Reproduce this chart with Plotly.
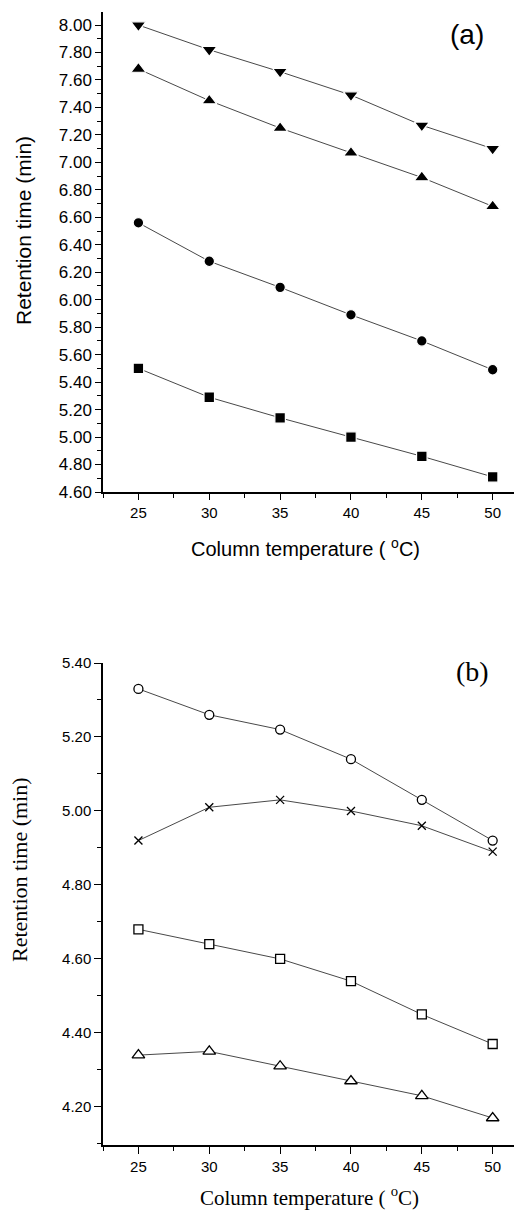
import plotly.graph_objects as go

# ---- data ----
temps = [25, 30, 35, 40, 45, 50]
a_down_tri = [8.00, 7.82, 7.66, 7.49, 7.27, 7.10]
a_up_tri = [7.68, 7.45, 7.25, 7.07, 6.89, 6.68]
a_circle = [6.56, 6.28, 6.09, 5.89, 5.70, 5.49]
a_square = [5.50, 5.29, 5.14, 5.00, 4.86, 4.71]

b_circle = [5.33, 5.26, 5.22, 5.14, 5.03, 4.92]
b_cross = [4.92, 5.01, 5.03, 5.00, 4.96, 4.89]
b_square = [4.68, 4.64, 4.60, 4.54, 4.45, 4.37]
b_triangle = [4.34, 4.35, 4.31, 4.27, 4.23, 4.17]

x_title = "Column temperature ( <sup>o</sup>C)"
y_title = "Retention time (min)"

# page has an 8px body margin; size the figure so it fits the window exactly
OFF = 8
W, H = 522 - OFF, 1210 - OFF
L, R, T, B = 103 - OFF, 0, 12 - OFF, 65
PW, PH = W - L - R, H - T - B


def px(x_page):
    return (x_page - OFF - L) / PW


def py(y_page):
    return (H - B - (y_page - OFF)) / PH


SANS = "Liberation Sans, Arial, sans-serif"
SERIF = "Liberation Serif, Times New Roman, serif"
LINE = dict(color="#333333", width=0.9)

fig = go.Figure()


def add_filled(y, symbol, size):
    fig.add_trace(go.Scatter(
        x=temps, y=y, mode="lines+markers", xaxis="x", yaxis="y",
        line=LINE,
        marker=dict(symbol=symbol, size=size, color="black",
                    line=dict(color="white", width=1.2)),
        showlegend=False))


def add_open(y, symbol, size, fill="white"):
    fig.add_trace(go.Scatter(
        x=temps, y=y, mode="lines+markers", xaxis="x2", yaxis="y2",
        line=LINE,
        marker=dict(symbol=symbol, size=size, color=fill,
                    line=dict(color="black", width=1.3)),
        showlegend=False))


add_filled(a_down_tri, "triangle-down", 13)
add_filled(a_up_tri, "triangle-up", 13)
add_filled(a_circle, "circle", 10.5)
add_filled(a_square, "square", 10.5)

add_open(b_circle, "circle", 9)
add_open(b_cross, "x-thin", 8, fill="black")
add_open(b_square, "square", 9)
add_open(b_triangle, "triangle-up", 11)

axis_common = dict(
    showgrid=False, zeroline=False, showline=True, linecolor="black",
    linewidth=1.5, ticks="outside", tickcolor="black", tickwidth=1.2,
    automargin=False,
)

fig.update_layout(
    width=W, height=H, autosize=False,
    margin=dict(l=L, r=R, t=T, b=B, pad=0, autoexpand=False),
    paper_bgcolor="white", plot_bgcolor="white",
    xaxis=dict(axis_common, domain=[0, 1], anchor="y", range=[22.5, 52.07],
               tick0=25, dtick=5, ticklen=6,
               minor=dict(tick0=22.5, dtick=2.5, ticklen=4, ticks="outside",
                          tickcolor="black", tickwidth=1.2),
               tickfont=dict(family=SANS, size=15, color="black")),
    yaxis=dict(axis_common, domain=[py(492), 1], anchor="x", range=[4.6, 8.095],
               tick0=4.6, dtick=0.2, tickformat=".2f", ticklen=6,
               minor=dict(dtick=0.1, tick0=4.6, ticklen=4, ticks="outside",
                          tickcolor="black", tickwidth=1.2),
               tickfont=dict(family=SANS, size=17, color="black")),
    xaxis2=dict(axis_common, domain=[0, 1], anchor="y2", range=[22.5, 52.07],
                tick0=25, dtick=5, ticklen=7,
                minor=dict(tick0=22.5, dtick=2.5, ticklen=4, ticks="outside",
                           tickcolor="black", tickwidth=1.2),
                tickfont=dict(family=SANS, size=15, color="black")),
    yaxis2=dict(axis_common, domain=[0, py(663)], anchor="x2", range=[4.097, 5.40],
                tick0=4.2, dtick=0.2, tickformat=".2f", ticklen=7,
                minor=dict(dtick=0.1, tick0=4.2, ticklen=4, ticks="outside",
                           tickcolor="black", tickwidth=1.2),
                tickfont=dict(family=SANS, size=15, color="black")),
)

ann = [
    dict(text=y_title, x=px(23), y=py(231), textangle=-90,
         font=dict(family=SANS, size=21, color="black")),
    dict(text=x_title, x=px(305), y=py(547),
         font=dict(family=SANS, size=20, color="black")),
    dict(text="(a)", x=px(467), y=py(35),
         font=dict(family=SANS, size=28, color="black")),
    dict(text=y_title, x=px(19), y=py(870), textangle=-90,
         font=dict(family=SERIF, size=22, color="black")),
    dict(text=x_title, x=px(309), y=py(1197),
         font=dict(family=SERIF, size=21, color="black")),
    dict(text="(b)", x=px(472), y=py(671),
         font=dict(family=SERIF, size=28, color="black")),
]
for a in ann:
    fig.add_annotation(xref="paper", yref="paper", showarrow=False,
                       xanchor="center", yanchor="middle", **a)

fig.write_html("out.html")
